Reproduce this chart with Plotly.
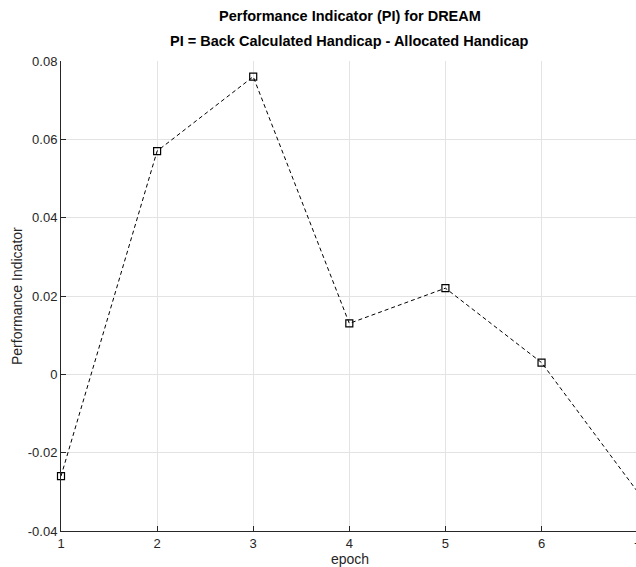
import plotly.graph_objects as go

epochs = [1, 2, 3, 4, 5, 6, 7]
pi_values = [-0.026, 0.057, 0.076, 0.013, 0.022, 0.003, -0.030]
x_ticks = [1, 2, 3, 4, 5, 6]
y_ticks = [-0.04, -0.02, 0, 0.02, 0.04, 0.06, 0.08]
y_tick_text = ["-0.04", "-0.02", "0", "0.02", "0.04", "0.06", "0.08"]
title_lines = ["Performance Indicator (PI) for DREAM",
               "PI = Back Calculated Handicap - Allocated Handicap"]

x_min, x_max = 1, 6.983
font_fam = "Liberation Sans, Arial, Helvetica, sans-serif"
txt = "#262626"
plot_h = 567 - 61 - 36
plot_w = 636 - 61

fig = go.Figure()
fig.add_trace(go.Scatter(
    x=epochs, y=pi_values, mode="lines+markers",
    line=dict(color="black", width=1, dash="4px,3px"),
    marker=dict(symbol="square-open", size=7, color="black", line=dict(width=1.2)),
    cliponaxis=False, showlegend=False,
))

fig.update_layout(
    width=636, height=567,
    margin=dict(l=61, r=0, t=61, b=36),
    paper_bgcolor="white", plot_bgcolor="white",
    font=dict(family=font_fam, size=13, color=txt),
    xaxis=dict(
        range=[x_min, x_max], tickvals=x_ticks, ticks="inside", ticklen=5,
        tickcolor=txt, showline=True, linecolor=txt, linewidth=1,
        showgrid=True, gridcolor="#e3e3e3", gridwidth=1, zeroline=False,
    ),
    yaxis=dict(
        range=[-0.04, 0.08], tickvals=y_ticks, ticktext=y_tick_text,
        ticks="inside", ticklen=5, tickcolor=txt, showline=True,
        linecolor=txt, linewidth=1, showgrid=True, gridcolor="#e3e3e3",
        gridwidth=1, zeroline=False,
    ),
)

title_x = ((61 + 638) / 2 - 61) / plot_w
for line, ypix in zip(title_lines, [16, 41]):
    fig.add_annotation(
        x=title_x, xref="paper", y=1 + (61 - ypix) / plot_h, yref="paper",
        text="<b>" + line + "</b>", showarrow=False, xanchor="center", yanchor="middle",
        font=dict(size=14.5, color="black"),
    )

# axis titles
fig.add_annotation(
    x=-(61 - 17) / plot_w, xref="paper", y=0.5, yref="paper",
    text="Performance Indicator", textangle=-90, showarrow=False,
    xanchor="center", yanchor="middle", font=dict(size=14, color=txt),
)
fig.add_annotation(
    x=title_x, xref="paper", y=-(559 - 531) / plot_h, yref="paper",
    text="epoch", showarrow=False, xanchor="center", yanchor="middle",
    font=dict(size=14, color=txt),
)

# partially visible last tick label at x = 7 (just beyond the window edge)
fig.add_annotation(
    x=(7 - x_min) / (x_max - x_min), xref="paper", y=0, yref="paper",
    yshift=-7, text="7", showarrow=False, xanchor="center", yanchor="top",
    font=dict(size=13, color=txt),
)

fig.write_html("out.html")
